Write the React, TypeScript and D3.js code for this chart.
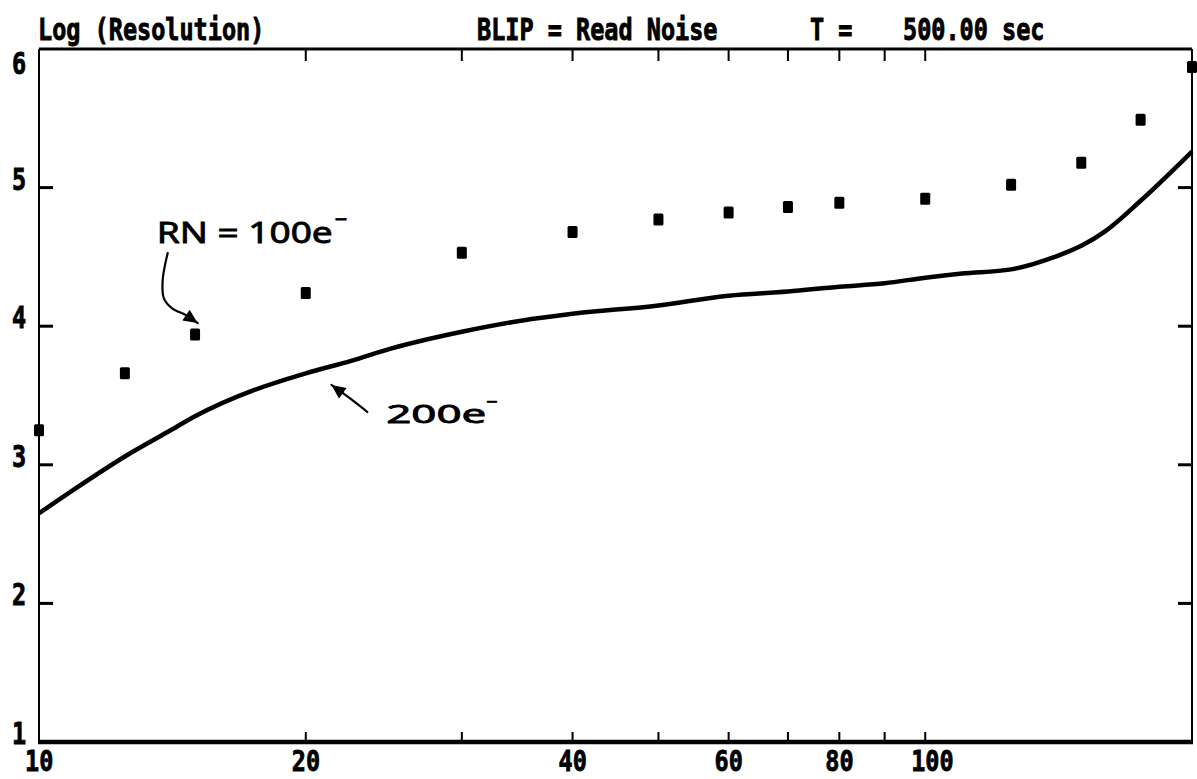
import React, { useEffect, useRef } from 'react';
import * as d3 from 'd3';

// RN = 100e- (squares)
const pointX = [10, 12.5, 15, 20, 30, 40, 50, 60, 70, 80, 100, 125, 150, 175, 200];
const pointY = [3.25, 3.66, 3.94, 4.24, 4.53, 4.68, 4.77, 4.82, 4.86, 4.89, 4.92, 5.02, 5.18, 5.49, 5.87];

// 200e- (line)
const lineX = [10, 11, 12.5, 14, 15, 17.5, 20, 22.5, 25, 30, 35, 40, 50, 60, 70, 80, 90, 100, 110, 125, 140, 150, 160, 175, 200];
const lineY = [2.65, 2.83, 3.06, 3.24, 3.35, 3.54, 3.66, 3.75, 3.84, 3.96, 4.04, 4.09, 4.15, 4.22, 4.25, 4.285, 4.31, 4.35, 4.38, 4.41, 4.5, 4.58, 4.69, 4.905, 5.26];

const xTicks = [10, 20, 30, 40, 50, 60, 70, 80, 90, 100];
const xLabels = [10, 20, 40, 60, 80, 100];
const yTicks = [1, 2, 3, 4, 5, 6];

const titleLeft = 'Log (Resolution)';
const titleMid = 'BLIP = Read Noise';
const titleT = 'T =';
const titleTime = '500.00 sec';

const MONO = "'DejaVu Sans Mono', 'Liberation Mono', monospace";
const HAND = "'Noto Sans', 'Open Sans', sans-serif";

const App: React.FC = () => {
  const ref = useRef<SVGSVGElement>(null);

  useEffect(() => {
    if (!ref.current) return;
    const svg = d3.select(ref.current);
    svg.selectAll('*').remove();

    const W = 1197;
    const H = 779;
    const x = d3.scaleLog().domain([10, 200]).range([39, 1192]);
    const y = d3.scaleLinear().domain([1, 6]).range([742, 49]);
    const [x0, x1] = x.range();
    const [y0, y1] = y.range();

    svg.append('rect').attr('width', W).attr('height', H).attr('fill', '#fff');

    const tallText = (sel: any, tx: number, ty: number, s: string, anchor = 'start', sy = 1.3) =>
      sel.append('text')
        .attr('transform', `translate(${tx},${ty}) scale(1,${sy})`)
        .attr('font-family', MONO)
        .attr('font-weight', 'bold')
        .attr('font-size', 23.5)
        .attr('text-anchor', anchor)
        .attr('fill', '#000')
        .attr('stroke', '#000')
        .attr('stroke-width', 0.7)
        .text(s);

    // titles
    tallText(svg, 38, 40, titleLeft);
    tallText(svg, 477, 40, titleMid);
    tallText(svg, 810, 40, titleT);
    tallText(svg, 903, 40, titleTime);

    // frame
    const frame = svg.append('g').attr('stroke', '#000').attr('fill', 'none');
    frame.append('line').attr('x1', x0).attr('x2', x1).attr('y1', y1).attr('y2', y1).attr('stroke-width', 3);
    frame.append('line').attr('x1', x0 - 1).attr('x2', x1 + 1).attr('y1', y0).attr('y2', y0).attr('stroke-width', 4.5);
    frame.append('line').attr('x1', x0).attr('x2', x0).attr('y1', y1).attr('y2', y0).attr('stroke-width', 2);
    frame.append('line').attr('x1', x1).attr('x2', x1).attr('y1', y1).attr('y2', y0).attr('stroke-width', 2);

    // x ticks (top and bottom, inward)
    xTicks.filter(t => t > 10).forEach(t => {
      frame.append('line').attr('x1', x(t)).attr('x2', x(t)).attr('y1', y1).attr('y2', y1 + 12).attr('stroke-width', 2);
      frame.append('line').attr('x1', x(t)).attr('x2', x(t)).attr('y1', y0).attr('y2', y0 - 10).attr('stroke-width', 2);
    });
    xLabels.forEach(t => tallText(svg, x(t) - 14, 771, String(t), 'start', 1.22));

    // y ticks (left and right, inward)
    yTicks.filter(t => t > 1 && t < 6).forEach(t => {
      frame.append('line').attr('x1', x0).attr('x2', x0 + 14).attr('y1', y(t)).attr('y2', y(t)).attr('stroke-width', 3);
      frame.append('line').attr('x1', x1).attr('x2', x1 - 14).attr('y1', y(t)).attr('y2', y(t)).attr('stroke-width', 3);
    });
    yTicks.forEach(t => {
      const base = t === 6 ? 74 : y(t) + 2;
      tallText(svg, 19, base, String(t), 'middle');
    });

    // line series
    const lineData = lineX.map((v, i) => [v, lineY[i]] as [number, number]);
    svg.append('path')
      .datum(lineData)
      .attr('fill', 'none')
      .attr('stroke', '#000')
      .attr('stroke-width', 4.5)
      .attr('stroke-linejoin', 'round')
      .attr('d', d3.line<[number, number]>()
        .x(d => x(d[0]))
        .y(d => y(d[1]))
        .curve(d3.curveMonotoneX));

    // square points
    svg.append('g')
      .selectAll('rect')
      .data(pointX.map((v, i) => [v, pointY[i]]))
      .enter()
      .append('rect')
      .attr('x', d => x(d[0]) - 5)
      .attr('y', d => y(d[1]) - 6)
      .attr('width', 10)
      .attr('height', 12)
      .attr('rx', 1.5)
      .attr('fill', '#000');

    // handwritten annotations
    const hand = svg.append('g').attr('fill', '#000');
    const label = (ax: number, ay: number, s: string, size: number, len: number) =>
      hand.append('text')
        .attr('x', x(ax)).attr('y', y(ay))
        .attr('font-family', HAND)
        .attr('font-size', size)
        .attr('textLength', len)
        .attr('lengthAdjust', 'spacingAndGlyphs')
        .attr('stroke', '#000')
        .attr('stroke-width', 0.8)
        .text(s);
    label(13.58, 4.6, 'RN = 100e', 29, 176);
    hand.append('text')
      .attr('x', x(13.58) + 178).attr('y', y(4.6) - 16)
      .attr('font-family', HAND).attr('font-size', 22)
      .attr('stroke', '#000').attr('stroke-width', 0.8)
      .text('−');
    label(24.65, 3.302, '200e', 26, 100);
    hand.append('text')
      .attr('x', x(24.65) + 100).attr('y', y(3.302) - 14)
      .attr('font-family', HAND).attr('font-size', 20)
      .attr('stroke', '#000').attr('stroke-width', 0.8)
      .text('−');

    const arrow = (pts: [number, number][], tip: [number, number]) => {
      const px = pts.map(p => [x(p[0]), y(p[1])] as [number, number]);
      const tp: [number, number] = [x(tip[0]), y(tip[1])];
      svg.append('path')
        .attr('d', d3.line().curve(d3.curveCatmullRom)(px.concat([tp])))
        .attr('fill', 'none').attr('stroke', '#000').attr('stroke-width', 2.2)
        .attr('stroke-linecap', 'round');
      const last = px[px.length - 1];
      const ang = Math.atan2(tp[1] - last[1], tp[0] - last[0]);
      const L = 14, w = 6.5;
      const bx = tp[0] - L * Math.cos(ang), by = tp[1] - L * Math.sin(ang);
      const pts3 = [
        tp,
        [bx + w * Math.sin(ang), by - w * Math.cos(ang)],
        [bx - w * Math.sin(ang), by + w * Math.cos(ang)],
      ];
      svg.append('path').attr('d', 'M' + pts3.map(p => p.join(',')).join('L') + 'Z').attr('fill', '#000');
    };
    arrow([[13.97, 4.528], [13.79, 4.333], [13.83, 4.203], [14.12, 4.131], [14.64, 4.081]], [15.1, 4.023]);
    arrow([[23.47, 3.381], [22.4, 3.482]], [21.38, 3.576]);
  }, []);

  return (
    <svg
      ref={ref}
      width={1197}
      height={779}
      style={{ position: 'absolute', left: 0, top: 0 }}
    />
  );
};

export default App;
